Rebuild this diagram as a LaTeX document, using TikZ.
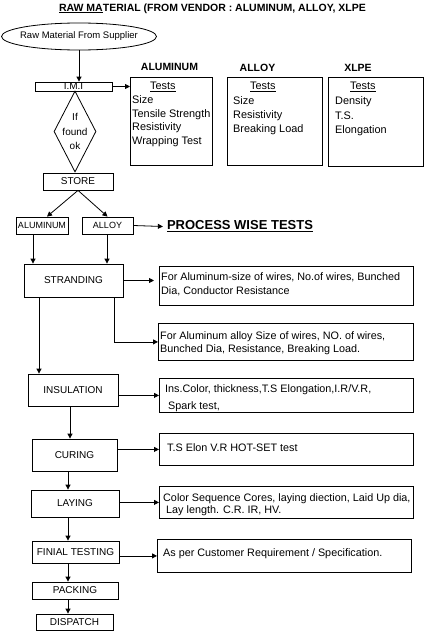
\documentclass[tikz,border=0pt]{standalone}
\usepackage{fontspec}
\setmainfont{Liberation Sans}
\usetikzlibrary{positioning,shapes.geometric,arrows.meta}
\tikzset{
  box/.style={draw, line width=0.8pt, inner sep=0pt, font=\fontsize{10}{12}\selectfont},
  sbox/.style={box, font=\fontsize{9}{11}\selectfont, minimum height=17},
  tbox/.style={draw, line width=0.8pt, inner sep=0pt, anchor=north west},
  txt/.style={inner sep=0pt, align=left, anchor=north west},
  hd/.style={inner sep=0pt, font=\fontsize{10.5}{12}\selectfont\bfseries},
  arr/.style={line width=0.8pt, -{Triangle[length=5pt,width=5pt]}},
  ln/.style={line width=0.8pt},
}
\begin{document}
\begin{tikzpicture}[x=1pt,y=-1pt]
  \useasboundingbox (0,0) rectangle (432,637);
  \node[hd] (title) at (212.5,8.5) {\underline{RAW MA}TERIAL (FROM VENDOR : ALUMINUM, ALLOY, XLPE};
  % incoming material
  \node[draw, ellipse, ln, minimum width=155, minimum height=27, inner sep=0pt,
    label={[font=\fontsize{9.5}{12}\selectfont]center:Raw Material From Supplier}] (raw) at (79,36.5) {};
  \node[box, minimum width=77, minimum height=9] (imi) at (73.5,86.5) {I.M.I};
  \node[draw, diamond, ln, minimum width=42, minimum height=81, inner sep=0pt,
    label={[align=center, font=\fontsize{10}{14.5}\selectfont]center:If\\found\\ok}] (ok) at (75,131.5) {};
  \node[box, minimum width=70, minimum height=17] (store) at (78,181.5) {STORE};
  \node[sbox, minimum width=52] (al) at (42,225.5) {ALUMINUM};
  \node[sbox, minimum width=51] (ay) at (107.5,225.5) {ALLOY};
  \node[inner sep=4pt, font=\fontsize{13}{15}\selectfont\bfseries] (pw) at (240,226.5) {\underline{PROCESS WISE TESTS}};

  % raw material tests
  \node[hd] (h1) at (169.5,67) {ALUMINUM};
  \node[hd] (h2) at (257.5,68) {ALLOY};
  \node[hd] (h3) at (358,68) {XLPE};
  \node[tbox, minimum width=82, minimum height=88] (t1) at (130,77) {};
  \node[tbox, minimum width=95, minimum height=88] (t2) at (227,77) {};
  \node[tbox, minimum width=95, minimum height=89] (t3) at (328,77) {};
  \node[txt, font=\fontsize{10.9}{13.75}\selectfont, below right=5pt and 2pt of t1.north west] (t1x)
    {\hspace{18pt}\underline{Tests}\\Size\\Tensile Strength\\Resistivity\\Wrapping Test};
  \node[txt, font=\fontsize{10.9}{14.3}\selectfont, below right=5pt and 6pt of t2.north west] (t2x)
    {\hspace{17pt}\underline{Tests}\\Size\\Resistivity\\Breaking Load};
  \node[txt, font=\fontsize{10.9}{14.67}\selectfont, below right=5pt and 7pt of t3.north west] (t3x)
    {\hspace{15pt}\underline{Tests}\\Density\\T.S.\\Elongation};

  % process steps
  \node[box, minimum width=99, minimum height=33] (strand) at (73.5,280.5) {STRANDING};
  \node[box, minimum width=90, minimum height=32] (ins) at (73,390) {INSULATION};
  \node[box, minimum width=85, minimum height=32] (cur) at (74.5,455) {CURING};
  \node[box, minimum width=88, minimum height=27] (lay) at (75,503.5) {LAYING};
  \node[box, minimum width=87, minimum height=22] (fin) at (75.5,552) {FINIAL TESTING};
  \node[box, minimum width=86, minimum height=17] (pack) at (75,590.5) {PACKING};
  \node[box, minimum width=77, minimum height=16] (dis) at (74.5,622) {DISPATCH};

  % process tests
  \node[tbox, minimum width=254, minimum height=39] (s1) at (159,266) {};
  \node[tbox, minimum width=255, minimum height=37] (s2) at (158,323) {};
  \node[tbox, minimum width=254, minimum height=34] (s3) at (159,378) {};
  \node[tbox, minimum width=254, minimum height=32] (s4) at (159,433) {};
  \node[tbox, minimum width=254, minimum height=32] (s5) at (159,486) {};
  \node[tbox, minimum width=254, minimum height=33] (s6) at (157,539) {};
  \node[txt, font=\fontsize{10.8}{14}\selectfont, below right=6pt and 2pt of s1.north west] (s1x)
    {For Aluminum-size of wires, No.of wires, Bunched\\Dia, Conductor Resistance};
  \node[txt, font=\fontsize{10.8}{13}\selectfont, below right=8pt and 2pt of s2.north west] (s2x)
    {For Aluminum alloy Size of wires, NO. of wires,\\Bunched Dia, Resistance, Breaking Load.};
  \node[txt, font=\fontsize{10.8}{16.5}\selectfont, below right=6.5pt and 6pt of s3.north west] (s3x)
    {Ins.Color, thickness,T.S Elongation,I.R/V.R,\\\hspace{3pt}Spark test,};
  \node[txt, font=\fontsize{10.8}{12}\selectfont, below right=10pt and 8pt of s4.north west] (s4x)
    {T.S Elon V.R HOT-SET test};
  \node[txt, font=\fontsize{10.8}{12.3}\selectfont, below right=7pt and 4pt of s5.north west] (s5x)
    {Color Sequence Cores, laying diection, Laid Up dia,\\\hspace{3pt}Lay length. C.R. IR, HV.};
  \node[txt, font=\fontsize{10.8}{12}\selectfont, below right=9pt and 6pt of s6.north west] (s6x)
    {As per Customer Requirement / Specification.};

  % line positions
  \coordinate (ka) at (33,0);
  \coordinate (kb) at (107,0);
  \coordinate (kc) at (39,0);
  \coordinate (kd) at (70,0);
  \coordinate (ke) at (68,0);
  \coordinate (kf) at (114,0);

  % connectors
  \draw[arr] (raw.south) -- (raw.south |- imi.north);
  \draw[arr] (imi.east) -- (imi.east -| t1.west);
  \draw[arr] (store.south) -- ([xshift=5pt]al.north);
  \draw[arr] (store.south) -- (ay.north);
  \draw[arr] (ay.east) -- (pw.west);
  \draw[arr] (al.south -| ka) -- (strand.north -| ka);
  \draw[arr] (ay.south -| kb) -- (strand.north -| kb);
  \draw[arr, shorten >=5pt] (strand.east) -- (strand.east -| s1.west);
  \draw[arr] (strand.south -| kf) |- (s2.west);
  \draw[arr] (strand.south -| kc) -- (ins.north -| kc);
  \draw[arr] (s3.west -| ins.east) -- (s3.west);
  \draw[arr] (ins.south -| kd) -- (cur.north -| kd);
  \draw[arr] (s4.west -| cur.east) -- (s4.west);
  \draw[arr] (cur.south -| ke) -- (lay.north -| ke);
  \draw[arr] (s5.west -| lay.east) -- (s5.west);
  \draw[arr] (lay.south -| ke) -- (fin.north -| ke);
  \draw[arr] (s6.west -| fin.east) -- (s6.west);
  \draw[arr] (fin.south -| ke) -- (pack.north -| ke);
  \draw[arr] (pack.south -| ke) -- (dis.north -| ke);
\end{tikzpicture}
\end{document}
